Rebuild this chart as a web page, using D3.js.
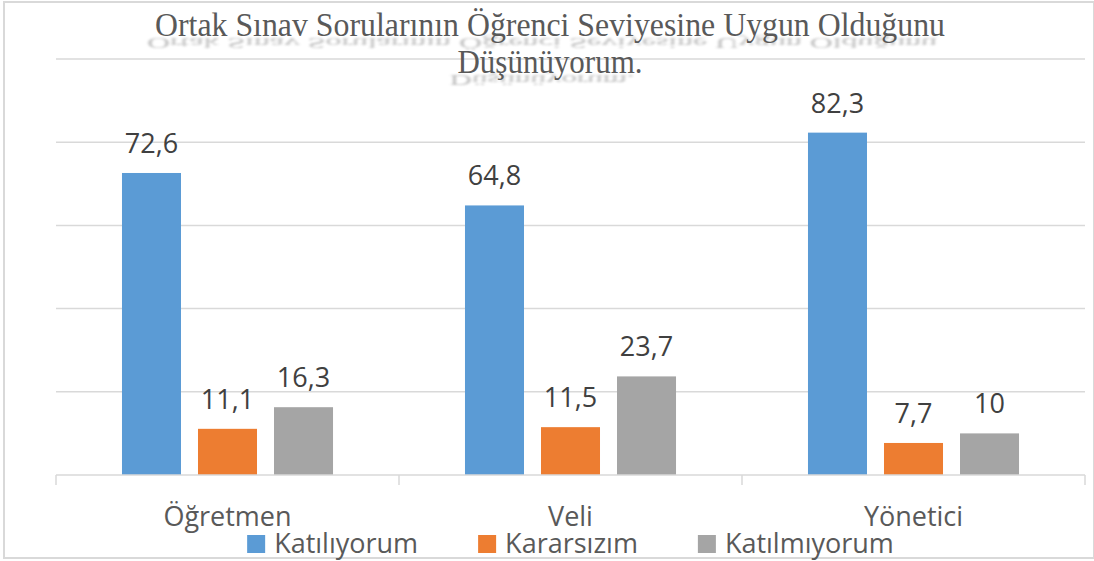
<!DOCTYPE html>
<html lang="tr">
<head>
<meta charset="utf-8">
<title>Ortak Sınav Soruları</title>
<script src="https://d3js.org/d3.v7.min.js"></script>
<style>
  body, html { margin: 0; padding: 0; background: #fff; }
  svg { display: block; }
  .title { font-family: "Liberation Serif", "Times New Roman", serif; fill: #595959; }
  .lbl { font-family: "Open Sans", "Noto Sans", sans-serif; }
</style>
</head>
<body>
<svg id="chart" width="1094" height="561"></svg>
<script>
// data
var categories = ["Öğretmen", "Veli", "Yönetici"];
var seriesNames = ["Katılıyorum", "Kararsızım", "Katılmıyorum"];
var katiliyorum = [72.6, 64.8, 82.3];
var kararsizim = [11.1, 11.5, 7.7];
var katilmiyorum = [16.3, 23.7, 10];
var seriesValues = [katiliyorum, kararsizim, katilmiyorum];
var seriesColors = ["#5B9BD5", "#ED7D31", "#A5A5A5"];
var titleLines = ["Ortak Sınav Sorularının Öğrenci Seviyesine Uygun Olduğunu", "Düşünüyorum."];
var yTicks = [0, 20, 40, 60, 80, 100];

var svg = d3.select("#chart");
var W = 1094, H = 561;
var plot = {left: 56, right: 1085, top: 59, bottom: 475};

// chart frame
svg.append("rect")
    .attr("x", 4).attr("y", 2)
    .attr("width", W - 4).attr("height", 556)
    .attr("fill", "none")
    .attr("stroke", "#D9D9D9")
    .attr("stroke-width", 2);

var x0 = d3.scaleBand().domain(categories).range([plot.left, plot.right]);
var x1 = d3.scaleBand().domain(seriesNames)
    .range([0, x0.bandwidth()])
    .paddingInner(0.2237)
    .paddingOuter(0.868);
var y = d3.scaleLinear().domain([0, 100]).range([plot.bottom, plot.top]);

// gridlines
svg.append("g").selectAll("line")
    .data(yTicks.slice(1))
    .enter().append("line")
    .attr("x1", plot.left).attr("x2", plot.right)
    .attr("y1", function(d) { return y(d); })
    .attr("y2", function(d) { return y(d); })
    .attr("stroke", "#D9D9D9")
    .attr("stroke-width", 1.5);

// title with soft reflection underneath
var defs = svg.append("defs");
defs.append("filter").attr("id", "blur")
    .attr("x", "-5%").attr("y", "-60%").attr("width", "110%").attr("height", "220%")
    .append("feGaussianBlur").attr("stdDeviation", "1.6 3");

var titleY = [36, 73];
var titleLen = [790, 185];
var titleX = 550;
titleLines.forEach(function(t, i) {
    svg.append("text")
        .attr("class", "title")
        .attr("transform", "translate(" + (titleX - 8) + "," + (titleY[i] + 2) + ") scale(1,-0.4)")
        .attr("text-anchor", "middle")
        .attr("font-size", 34)
        .attr("textLength", titleLen[i])
        .attr("lengthAdjust", "spacingAndGlyphs")
        .attr("opacity", 0.4)
        .attr("filter", "url(#blur)")
        .text(t);
    svg.append("text")
        .attr("class", "title")
        .attr("x", titleX).attr("y", titleY[i])
        .attr("text-anchor", "middle")
        .attr("font-size", 34)
        .attr("textLength", titleLen[i])
        .attr("lengthAdjust", "spacingAndGlyphs")
        .text(t);
});

// bars
var groups = svg.append("g").selectAll("g")
    .data(categories)
    .enter().append("g")
    .attr("transform", function(d) { return "translate(" + x0(d) + ",0)"; });

groups.selectAll("rect")
    .data(function(d, ci) {
        return seriesNames.map(function(s, si) {
            return {series: s, value: seriesValues[si][ci], color: seriesColors[si]};
        });
    })
    .enter().append("rect")
    .attr("x", function(d) { return x1(d.series); })
    .attr("y", function(d) { return y(d.value); })
    .attr("width", x1.bandwidth())
    .attr("height", function(d) { return y(0) - y(d.value); })
    .attr("fill", function(d) { return d.color; });

groups.selectAll("text")
    .data(function(d, ci) {
        return seriesNames.map(function(s, si) {
            return {series: s, value: seriesValues[si][ci]};
        });
    })
    .enter().append("text")
    .attr("class", "lbl")
    .attr("x", function(d) { return x1(d.series) + x1.bandwidth() / 2; })
    .attr("y", function(d) { return y(d.value) - 20; })
    .attr("text-anchor", "middle")
    .attr("font-size", 27)
    .attr("fill", "#404040")
    .text(function(d) { return String(d.value).replace(".", ","); });

// category axis
var axis = svg.append("g");
axis.append("line")
    .attr("x1", plot.left).attr("x2", plot.right)
    .attr("y1", plot.bottom).attr("y2", plot.bottom)
    .attr("stroke", "#D9D9D9").attr("stroke-width", 1.5);
axis.selectAll("line.tick")
    .data(categories.map(function(c) { return x0(c); }).concat([x0.range()[1]]))
    .enter().append("line")
    .attr("class", "tick")
    .attr("x1", function(d) { return d; }).attr("x2", function(d) { return d; })
    .attr("y1", plot.bottom).attr("y2", plot.bottom + 10)
    .attr("stroke", "#D9D9D9").attr("stroke-width", 1.5);
axis.selectAll("text")
    .data(categories)
    .enter().append("text")
    .attr("class", "lbl")
    .attr("x", function(d) { return x0(d) + x0.bandwidth() / 2; })
    .attr("y", 526)
    .attr("text-anchor", "middle")
    .attr("font-size", 27)
    .attr("fill", "#595959")
    .text(function(d) { return d; });

// legend, centred under the plot
var legend = svg.append("g");
var items = legend.selectAll("g")
    .data(seriesNames)
    .enter().append("g");
items.append("rect")
    .attr("y", 535).attr("width", 18).attr("height", 18)
    .attr("fill", function(d, i) { return seriesColors[i]; });
items.append("text")
    .attr("class", "lbl")
    .attr("x", 27).attr("y", 553)
    .attr("font-size", 27)
    .attr("fill", "#595959")
    .text(function(d) { return d; });
var offs = [], acc = 0;
items.each(function() {
    offs.push(acc);
    acc += 27 + d3.select(this).select("text").node().getComputedTextLength() + 60;
});
var total = acc - 60;
var startX = (plot.left + plot.right) / 2 - total / 2;
items.attr("transform", function(d, i) { return "translate(" + (startX + offs[i]) + ",0)"; });
</script>
</body>
</html>
